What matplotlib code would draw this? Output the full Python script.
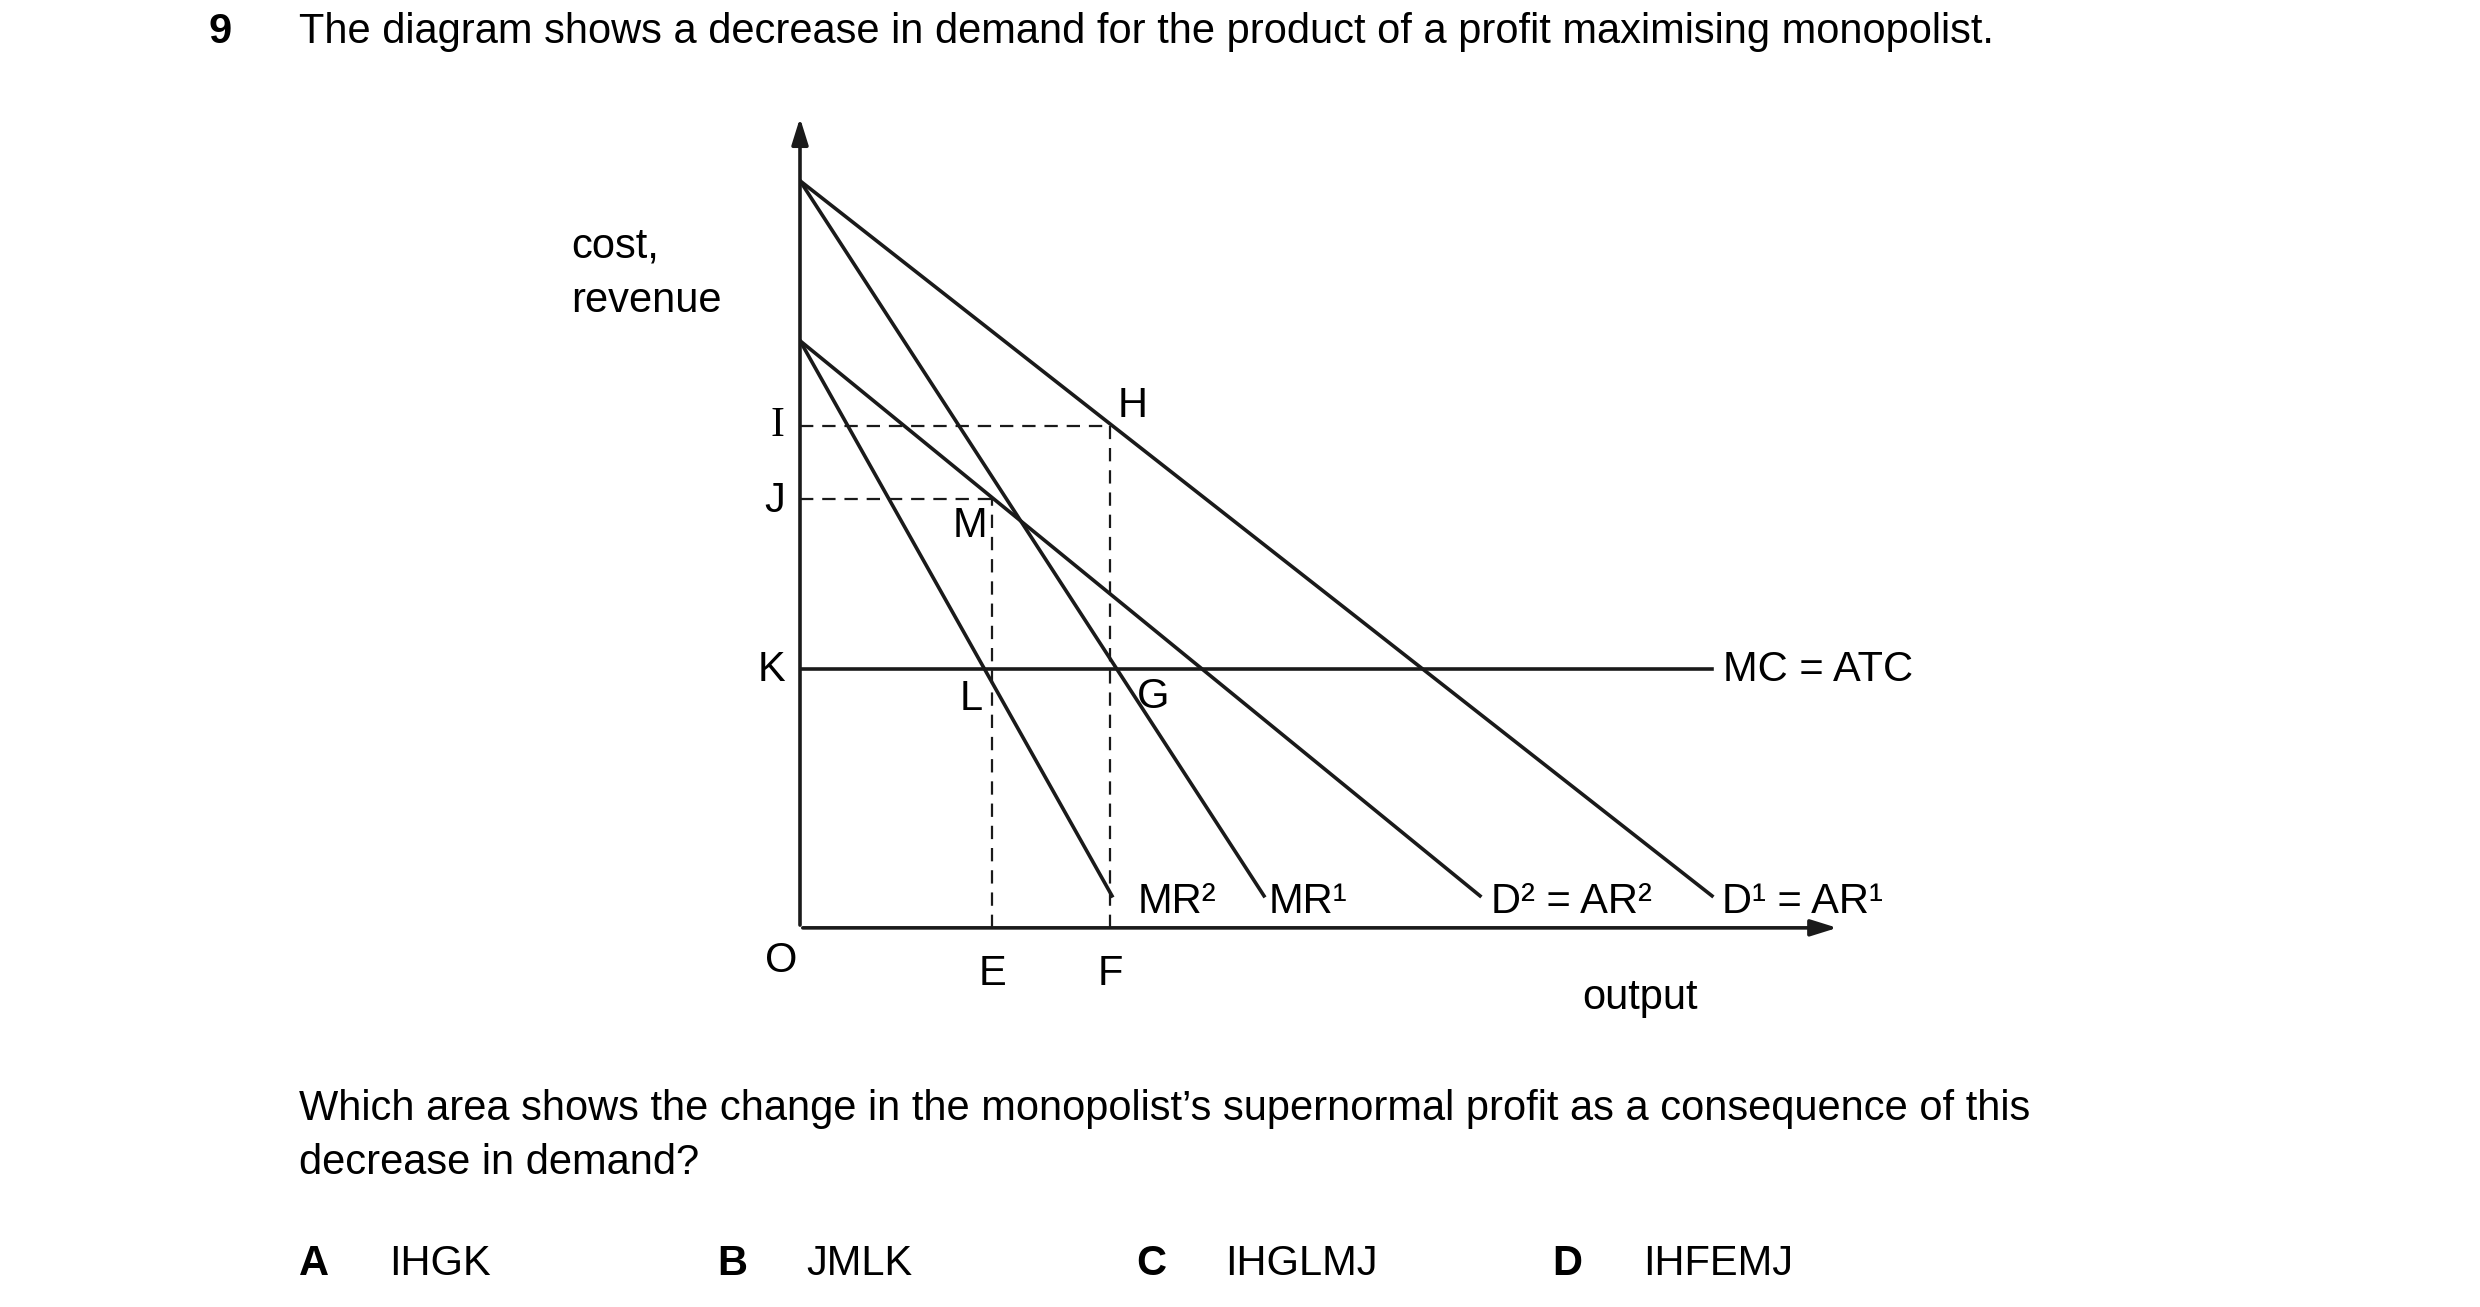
import matplotlib.pyplot as plt

plt.rcParams['font.family'] = ['Liberation Sans', 'DejaVu Sans']

# economic coordinates (origin at O)
d1 = ([0, 570], [467, 20])
d2 = ([0, 425], [367, 20])
mr1 = ([0, 290], [467, 20])
mr2 = ([0, 195], [367, 20])
mc_level = 162
mc_end = 570
price_I, price_J = 314, 268
qty_E, qty_F = 120, 194

W, H = 1550, 817
fig = plt.figure(figsize=(24.8, 13.07), dpi=100)
bg = fig.add_axes([0, 0, 1, 1])
bg.set_xlim(0, W)
bg.set_ylim(H, 0)
bg.axis('off')

ox, oy = 500, 580
ax = fig.add_axes([ox / W, (H - oy) / H, 650 / W, 508 / H])
ax.set_xlim(0, 650)
ax.set_ylim(0, 508)
ax.axis('off')

lw = 2.6
for xs, ys in (d1, d2, mr1, mr2):
    ax.plot(xs, ys, color='#1a1a1a', lw=lw)
ax.plot([0, mc_end], [mc_level, mc_level], color='#1a1a1a', lw=lw)
# axes with arrows
ax.annotate('', xy=(0, 508), xytext=(0, 0),
            arrowprops=dict(arrowstyle='-|>,head_length=1.6,head_width=0.5', color='#1a1a1a', lw=lw))
ax.annotate('', xy=(650, 0), xytext=(0, 0),
            arrowprops=dict(arrowstyle='-|>,head_length=1.6,head_width=0.5', color='#1a1a1a', lw=lw))
dash = dict(color='#1a1a1a', lw=1.6, ls=(0, (6, 4)))
ax.plot([0, qty_F], [price_I, price_I], **dash)
ax.plot([0, qty_E], [price_J, price_J], **dash)
ax.plot([qty_E, qty_E], [0, price_J], **dash)
ax.plot([qty_F, qty_F], [0, price_I], **dash)

fs = 30
def t(x, y, s, size=fs, **kw):
    bg.text(x, y, s, fontsize=size, va='center', **kw)

t(130, 20, '9', weight='bold', ha='left')
t(187, 20, 'The diagram shows a decrease in demand for the product of a profit maximising monopolist.', ha='left')
t(357, 154, 'cost,', ha='left')
t(357, 188, 'revenue', ha='left')
t(486, 266, 'I', ha='center', family=['Liberation Serif'])
t(484, 313, 'J', ha='center')
t(482, 419, 'K', ha='center')
t(488, 601, 'O', ha='center')
t(620, 609, 'E', ha='center')
t(694, 609, 'F', ha='center')
t(1025, 624, 'output', ha='center')
t(708, 254, 'H', ha='center')
t(606, 329, 'M', ha='center')
t(607, 437, 'L', ha='center')
t(721, 436, 'G', ha='center')
t(1077, 419, 'MC = ATC', ha='left')
t(711, 564, 'MR²', ha='left')
t(793, 564, 'MR¹', ha='left')
t(932, 564, 'D² = AR²', ha='left')
t(1076, 564, 'D¹ = AR¹', ha='left')
t(187, 693, 'Which area shows the change in the monopolist’s supernormal profit as a consequence of this', ha='left')
t(187, 727, 'decrease in demand?', ha='left')
for x, letter, x2, ans in ((187, 'A', 243, 'IHGK'), (448, 'B', 504, 'JMLK'),
                           (710, 'C', 766, 'IHGLMJ'), (970, 'D', 1027, 'IHFEMJ')):
    t(x, 790, letter, weight='bold', ha='left')
    t(x2, 790, ans, ha='left')

fig.savefig('out.png', dpi=100, facecolor='white')
